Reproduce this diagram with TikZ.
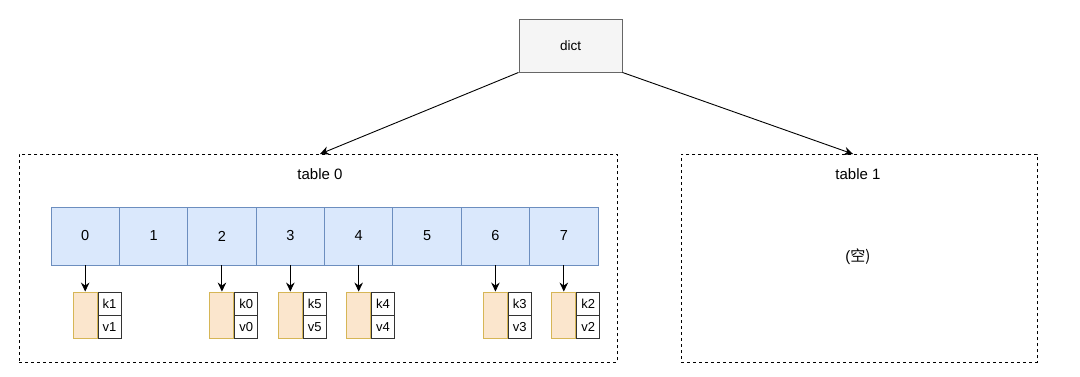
\documentclass[tikz,border=0pt]{standalone}
\usepackage{fontspec}
\setmainfont{Liberation Sans}
\newfontfamily\cjk{Noto Sans CJK SC}
\usetikzlibrary{arrows.meta,positioning}
\definecolor{cellfill}{HTML}{DAE8FC}
\definecolor{celldraw}{HTML}{6C8EBF}
\definecolor{orfill}{HTML}{FBE6CD}
\definecolor{ordraw}{HTML}{D6B656}
\definecolor{dictfill}{HTML}{F5F5F5}
\definecolor{dictdraw}{HTML}{666666}
\tikzset{
  arr/.style={-{Stealth[length=9pt,width=8.5pt,inset=3pt]}, line width=0.9pt},
  dashbox/.style={draw, line width=0.9pt, dash pattern=on 3pt off 3pt, minimum width=598pt, minimum height=208pt, anchor=north west, inner sep=0pt},
  cellbox/.style={draw=celldraw, fill=cellfill, line width=0.9pt, minimum width=68.375pt, minimum height=58pt, inner sep=0pt, font=\fontsize{14.5}{16}\selectfont},
  orbox/.style={draw=ordraw, fill=orfill, line width=0.9pt, minimum width=24pt, minimum height=46pt, inner sep=0pt},
  kvbox/.style={draw=black!80, fill=white, line width=0.9pt, minimum width=23pt, minimum height=23pt, inner sep=0pt, font=\fontsize{13}{14}\selectfont},
  lbl/.style={font=\fontsize{15}{16}\selectfont, inner sep=0pt}
}
\begin{document}
\begin{tikzpicture}[x=1pt,y=-1pt]
\useasboundingbox (0,0) rectangle (1080,377);
% dict
\node[draw=dictdraw, fill=dictfill, line width=0.9pt, minimum width=103pt, minimum height=53pt, inner sep=0pt, font=\fontsize{13.5}{15}\selectfont] (dict) at (570.5,45.5) {dict};
% tables
\node[dashbox] (t0) at (19,154) {};
\node[dashbox, minimum width=356pt] (t1) at (681,154) {};
\node[lbl] (t0l) at (320,174) {table 0};
\node[lbl] (t1l) at (858,174) {table 1};
\node[lbl] (empty) at (858,257) {(\cjk 空)};
\coordinate (t0in) at (320,154);
\coordinate (t1in) at (853,154);
\draw[arr] (dict.south west) -- (t0in);
\draw[arr] (dict.south east) -- (t1in);
% cells
\foreach \i in {0,...,7} {
  \node[cellbox] (c\i) at ({51+34.1875+68.375*\i},236) {\i};
}
% entries
\foreach \i/\k in {0/1,2/0,3/5,4/4,6/3,7/2} {
  \node[orbox] (o\i) at ({51+34.1875+68.375*\i},315) {};
  \node[kvbox, anchor=north west] (k\i) at (o\i.north east) {k\k};
  \node[kvbox, anchor=north west] (v\i) at (k\i.south west) {v\k};
  \draw[arr] (c\i.south) -- (o\i.north);
}
\end{tikzpicture}
\end{document}
